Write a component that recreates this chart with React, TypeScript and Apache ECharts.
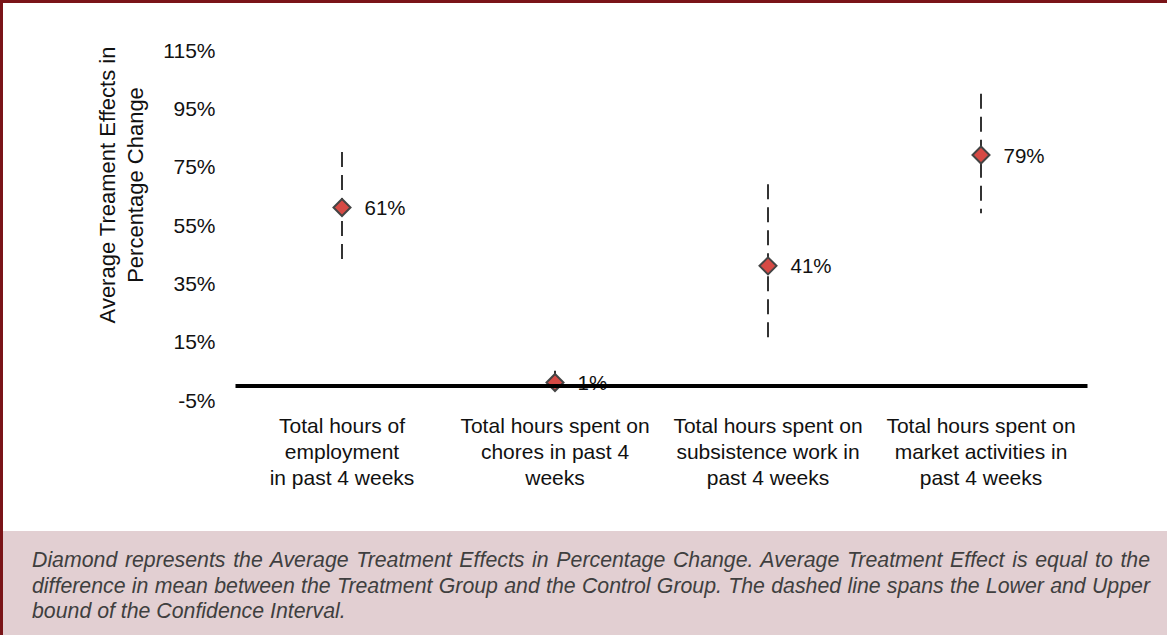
import React, { useEffect, useRef } from "react";
import * as echarts from "echarts";

const categories = [
  "Total hours of\nemployment\nin past 4 weeks",
  "Total hours spent on\nchores in past 4\nweeks",
  "Total hours spent on\nsubsistence work in\npast 4 weeks",
  "Total hours spent on\nmarket activities in\npast 4 weeks",
];
const effects = [61, 1, 41, 79];
const lowerBounds = [42, -2, 15, 59];
const upperBounds = [80, 5, 69, 100];
const yMin = -5;
const yMax = 115;
const yInterval = 20;
const yAxisTitle = "Average Treament Effects in\nPercentage Change";
const footnote =
  "Diamond represents the Average Treatment Effects in Percentage Change. Average Treatment Effect is equal to the difference in mean between the Treatment Group and the Control Group. The dashed line spans the Lower and Upper bound of the Confidence Interval.";

const FONT = '"Liberation Sans", Arial, Helvetica, sans-serif';

export default function App() {
  const ref = useRef<HTMLDivElement>(null);

  useEffect(() => {
    document.body.style.margin = "0";
    if (!ref.current) return;
    const chart = echarts.init(ref.current, undefined, { renderer: "svg" });
    const ciData = categories.map((_, i) => [i, lowerBounds[i], upperBounds[i]]);
    const pointData = categories.map((_, i) => [i, effects[i]]);
    chart.setOption({
      animation: false,
      textStyle: { fontFamily: FONT },
      grid: { left: 235.5, right: 79.5, top: 50, height: 350 },
      xAxis: {
        type: "category",
        data: categories,
        axisLine: { show: false, onZero: false },
        axisTick: { show: false },
        axisLabel: {
          interval: 0,
          margin: 12,
          fontSize: 21,
          lineHeight: 26,
          color: "#111",
          fontFamily: FONT,
        },
        splitLine: { show: false },
      },
      yAxis: {
        type: "value",
        min: yMin,
        max: yMax,
        interval: yInterval,
        axisLine: { show: false },
        axisTick: { show: false },
        splitLine: { show: false },
        axisLabel: {
          formatter: "{value}%",
          fontSize: 21,
          margin: 20,
          color: "#111",
          fontFamily: FONT,
        },
      },
      graphic: [
        {
          type: "text",
          x: 121,
          y: 185,
          rotation: Math.PI / 2,
          style: {
            text: yAxisTitle,
            textAlign: "center",
            textVerticalAlign: "middle",
            font: `22px ${FONT}`,
            lineHeight: 28,
            fill: "#111",
          },
        },
      ],
      series: [
        {
          type: "custom",
          z: 2,
          data: ciData,
          encode: { x: 0, y: [1, 2] },
          renderItem: (params: any, api: any) => {
            const x = api.value(0);
            const lo = api.coord([x, api.value(1)]);
            const hi = api.coord([x, api.value(2)]);
            return {
              type: "line",
              shape: { x1: hi[0], y1: hi[1], x2: lo[0], y2: lo[1] },
              style: { stroke: "#333", lineWidth: 2, lineDash: [15, 8] },
            };
          },
        },
        {
          type: "scatter",
          z: 3,
          data: pointData,
          symbol: "diamond",
          symbolSize: 17,
          itemStyle: {
            color: "#d64a45",
            borderColor: "#444",
            borderWidth: 2,
            opacity: 1,
          },
          label: {
            show: true,
            position: "right",
            distance: 13,
            formatter: (p: any) => `${p.value[1]}%`,
            fontSize: 20.5,
            color: "#111",
            fontFamily: FONT,
          },
        },
        {
          type: "line",
          z: 10,
          data: [],
          symbol: "none",
          markLine: {
            silent: true,
            symbol: ["none", "none"],
            label: { show: false },
            lineStyle: { color: "#000", width: 4, type: "solid" },
            data: [{ yAxis: 0 }],
          },
        },
      ],
    });
    return () => chart.dispose();
  }, []);

  return (
    <div
      style={{
        position: "relative",
        width: 1167,
        height: 635,
        background: "#fff",
        overflow: "hidden",
      }}
    >
      <div
        ref={ref}
        style={{ position: "absolute", left: 0, top: 0, width: 1167, height: 531 }}
      />
      <div
        style={{
          position: "absolute",
          left: 3,
          top: 531,
          width: 1164,
          height: 104,
          background: "#e2cfd2",
          boxSizing: "border-box",
          padding: "17px 17px 0 29px",
          fontFamily: FONT,
          fontStyle: "italic",
          fontSize: 21.3,
          lineHeight: "25.5px",
          color: "#3f3f3f",
          textAlign: "justify",
        }}
      >
        {footnote}
      </div>
      <div
        style={{ position: "absolute", left: 0, top: 0, width: 1167, height: 3, background: "#7a1418" }}
      />
      <div
        style={{ position: "absolute", left: 0, top: 0, width: 3, height: 635, background: "#7a1418" }}
      />
    </div>
  );
}
